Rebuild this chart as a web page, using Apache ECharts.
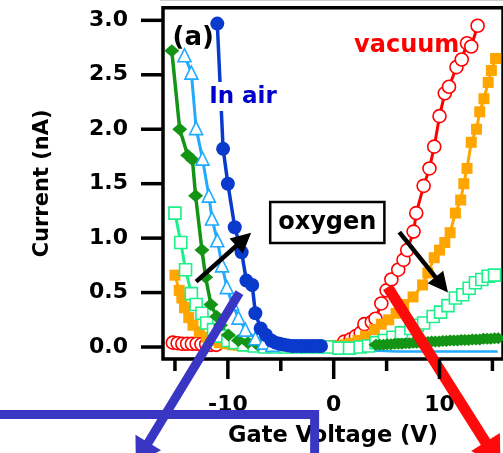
<!DOCTYPE html>
<html>
<head>
<meta charset="utf-8">
<script src="https://cdn.jsdelivr.net/npm/echarts@6/dist/echarts.min.js"></script>
<style>
  html, body { margin: 0; padding: 0; background: #fff; }
  #chart { width: 503px; height: 453px; }
</style>
</head>
<body>
<div id="chart"></div>
<script>
// Tick positions
const xTicksMajor = [-10, 0, 10];
const xTicksMinor = [-15, -5, 5, 15];
const yTicks = [0, 0.5, 1.0, 1.5, 2.0, 2.5, 3.0];

// Drain current (nA) versus gate voltage (V), [V, I] pairs
const vacuum = [
  [-15.2,0.04],[-14.75,0.035],[-14.3,0.03],[-13.85,0.03],[-13.4,0.03],[-12.95,0.03],[-12.5,0.025],
  [-12.05,0.025],[-11.6,0.02],[-11.1,0.02],[1.0,0.05],
  [1.6,0.07],[2.1,0.10],[2.55,0.13],[2.9,0.21],[3.6,0.23],[3.95,0.26],[4.5,0.40],[5.0,0.52],
  [5.45,0.62],[6.1,0.71],[6.6,0.80],[6.95,0.89],[7.55,1.06],[7.8,1.23],[8.5,1.48],[9.05,1.64],
  [9.5,1.84],[10.0,2.12],[10.5,2.33],[10.9,2.39],[11.6,2.57],[12.1,2.64],[12.6,2.79],[13.0,2.76],
  [13.6,2.95]
];
const oxygen1 = [
  [-15.0,0.66],[-14.6,0.52],[-14.35,0.45],[-14.1,0.36],[-13.7,0.27],[-13.3,0.20],[-12.7,0.14],
  [-12.0,0.09],[-11.4,0.06],[-10.8,0.04],[-10.2,0.03],[-9.6,0.02],[-9.0,0.015],[-8.4,0.01],
  [-7.8,0.01],[-7.2,0.01],[-6.6,0.01],[-6.0,0.01],[-5.4,0.01],[-4.8,0.01],[-4.2,0.01],[-3.6,0.01],
  [-3.0,0.01],[-2.4,0.01],[-1.8,0.01],[-1.2,0.01],[0.0,0.005],[0.5,0.01],[1.0,0.02],[1.6,0.035],
  [2.3,0.06],[3.0,0.10],[3.85,0.16],[4.5,0.21],[5.2,0.25],[5.9,0.31],[6.6,0.39],[7.5,0.46],
  [8.4,0.57],[8.9,0.68],[9.5,0.82],[10.0,0.89],[10.5,0.96],[11.0,1.05],[11.5,1.23],[12.0,1.35],
  [12.3,1.50],[12.6,1.64],[13.0,1.88],[13.5,2.0],[13.8,2.16],[14.2,2.28],[14.6,2.43],[14.9,2.54],
  [15.3,2.65]
];
const oxygen2 = [
  [-15.0,1.23],[-14.45,0.96],[-14.0,0.71],[-13.45,0.49],[-13.0,0.39],[-12.45,0.31],[-12.0,0.22],
  [-11.35,0.16],[-10.7,0.10],[-10.0,0.06],[-9.3,0.04],[-8.5,0.02],[-7.5,0.01],[-6.5,0.0],
  [-5.5,0.0],[-4.5,0.0],[-3.5,0.0],[-2.5,0.0],[-1.5,0.0],[-0.5,0.0],[0.5,-0.01],
  [1.5,-0.01],[2.5,0.0],[3.3,0.01],[4.0,0.04],[4.8,0.06],[5.6,0.09],[6.4,0.13],[7.3,0.17],
  [7.9,0.20],[8.5,0.22],[9.4,0.28],[10.1,0.32],[10.8,0.38],[11.5,0.45],[12.2,0.48],[12.8,0.54],
  [13.4,0.59],[14.0,0.62],[14.6,0.65],[15.2,0.66]
];
const oxygen3Left = [
  [-15.3,2.72],[-14.55,2.0],[-13.8,1.76],[-13.35,1.72],[-13.05,1.39],[-12.45,0.89],[-12.1,0.64],
  [-11.6,0.39],[-11.05,0.28],[-10.7,0.20],[-9.95,0.11],[-9.0,0.06],[-8.1,0.04],[-7.2,0.02],[-6.2,0.01]
];
const oxygen3Right = [
  [4.0,0.02],[4.35,0.02],[4.7,0.02],[5.05,0.025],[5.4,0.025],[5.75,0.03],[6.1,0.03],[6.45,0.03],
  [6.8,0.035],[7.15,0.035],[7.5,0.04],[7.85,0.04],[8.2,0.04],[8.55,0.045],[8.9,0.045],[9.25,0.05],
  [9.6,0.05],[9.95,0.05],[10.3,0.055],[10.65,0.055],[11.0,0.06],[11.35,0.06],[11.7,0.06],
  [12.05,0.065],[12.4,0.065],[12.75,0.065],[13.1,0.07],[13.45,0.07],[13.8,0.07],[14.15,0.075],
  [14.5,0.075],[14.85,0.075],[15.2,0.08],[15.55,0.08]
];
const oxygen4 = [
  [-14.1,2.68],[-13.45,2.52],[-13.0,2.01],[-12.4,1.73],[-11.8,1.39],[-11.5,1.18],[-11.0,0.98],
  [-10.55,0.75],[-10.1,0.55],[-9.6,0.40],[-9.0,0.27],[-8.35,0.16],[-7.4,0.08],[-6.6,0.04],[-5.8,0.02]
];
const oxygen4Tail = [
  [-5.8,0.02],[-3.0,0.0],[0.0,-0.02],[3.0,-0.03],[6.0,-0.04],[9.0,-0.04],[12.0,-0.04],[15.5,-0.04]
];
const inAir = [
  [-11.0,2.97],[-10.45,1.82],[-10.0,1.50],[-9.35,1.10],[-8.7,0.87],[-8.25,0.61],[-7.7,0.57],
  [-7.4,0.31],[-6.9,0.17],[-6.4,0.11],[-5.9,0.06],[-5.5,0.04],[-5.1,0.03],[-4.7,0.02],[-4.3,0.015],
  [-3.9,0.01],[-3.5,0.01],[-3.1,0.01],[-2.7,0.01],[-2.3,0.01],[-1.9,0.01],[-1.5,0.01],[-1.2,0.01]
];

const FONT = 'DejaVu Sans';
const C = {
  vacuum: '#ff0000', ox1: '#ffa500', ox2: '#1cf08a', ox3: '#149414', ox4: '#22aaff', air: '#0a3acc'
};
const X_MIN = -16.13, X_MAX = 16, Y_MIN = -0.11, Y_MAX = 3.116;

function curve(name, data, color, symbol, size, filled, width) {
  return {
    type: 'line', name, data,
    symbol, symbolSize: size, showSymbol: symbol !== 'none',
    lineStyle: { color, width },
    itemStyle: { color: filled ? color : '#fff', borderColor: color, borderWidth: filled ? 0 : 1.6 },
    emphasis: { disabled: true },
    animation: false
  };
}

const chart = echarts.init(document.getElementById('chart'));
const textStyle = { fontFamily: FONT, fontWeight: 'bold', color: '#000' };

chart.setOption({
  animation: false,
  grid: {
    left: 163, top: 7.7, right: -8.6, bottom: 94,
    show: true, borderColor: '#000', borderWidth: 3.5, backgroundColor: 'transparent'
  },
  xAxis: {
    type: 'value', position: 'bottom', min: X_MIN, max: X_MAX,
    axisLine: { show: false, onZero: false }, splitLine: { show: false }, axisTick: { show: false },
    axisLabel: Object.assign({ customValues: xTicksMajor, margin: 35, fontSize: 22 }, textStyle),
    name: 'Gate Voltage (V)', nameLocation: 'middle', nameGap: 66,
    nameTextStyle: Object.assign({ fontSize: 22.5 }, textStyle)
  },
  yAxis: {
    type: 'value', position: 'left', min: Y_MIN, max: Y_MAX,
    axisLine: { show: false, onZero: false }, splitLine: { show: false }, axisTick: { show: false },
    axisLabel: Object.assign({ customValues: yTicks, margin: 35, fontSize: 22,
      formatter: v => v.toFixed(1) }, textStyle),
    name: 'Current (nA)', nameLocation: 'middle', nameGap: 110,
    nameTextStyle: Object.assign({ fontSize: 21 }, textStyle)
  },
  series: [
    curve('vacuum', vacuum, C.vacuum, 'circle', 13, false, 3),
    curve('oxygen 1', oxygen1, C.ox1, 'rect', 11, true, 3),
    curve('oxygen 2', oxygen2, C.ox2, 'rect', 12, false, 3),
    curve('oxygen 3', oxygen3Left, C.ox3, 'diamond', [15, 13], true, 3.5),
    curve('oxygen 3', oxygen3Right, C.ox3, 'diamond', [15, 12], true, 3.5),
    curve('oxygen 4', oxygen4Tail, C.ox4, 'none', 0, false, 2.5),
    curve('oxygen 4', oxygen4, C.ox4, 'triangle', 13, false, 3),
    curve('in air', inAir, C.air, 'circle', 14, true, 3.5)
  ]
});

// Positions from the chart's own scales
const px = p => chart.convertToPixel({ xAxisIndex: 0, yAxisIndex: 0 }, p);

// Outward tick marks on the left and bottom frame edges, as filled bars
function tickMarks() {
  const out = [];
  const base = px([X_MIN, Y_MIN]);
  const bar = (x, y, width, height) => out.push({ type: 'rect', z: 120,
    shape: { x, y, width, height }, style: { fill: '#000' } });
  yTicks.forEach(v => { const p = px([X_MIN, v]); bar(base[0] - 22, p[1] - 1.75, 22, 3.5); });
  xTicksMajor.forEach(v => { const p = px([v, Y_MIN]); bar(p[0] - 1.75, base[1], 3.5, 20); });
  xTicksMinor.forEach(v => { const p = px([v, Y_MIN]); bar(p[0] - 1.75, base[1], 3.5, 12); });
  return out;
}

function arrow(fromD, toD, width, headLen, headHalf, color) {
  const a = px(fromD), b = px(toD);
  const dx = b[0] - a[0], dy = b[1] - a[1], L = Math.hypot(dx, dy);
  const ux = dx / L, uy = dy / L;
  const bx = b[0] - ux * headLen, by = b[1] - uy * headLen;
  return [
    { type: 'line', z: 100, shape: { x1: a[0], y1: a[1], x2: bx + ux * 3, y2: by + uy * 3 },
      style: { stroke: color, lineWidth: width } },
    { type: 'polygon', z: 100,
      shape: { points: [b, [bx - uy * headHalf, by + ux * headHalf], [bx + uy * headHalf, by - ux * headHalf]] },
      style: { fill: color } }
  ];
}

function label(text, atD, size, color, bg) {
  const p = px(atD);
  return { type: 'text', z: 90, x: p[0], y: p[1],
    style: { text, fontFamily: FONT, fontWeight: 'bold', fontSize: size, fill: color,
      align: 'center', verticalAlign: 'middle',
      backgroundColor: bg || 'transparent', padding: bg ? [3, 2] : 0 } };
}

const boxTL = px([-6.0, 1.332]), boxBR = px([4.79, 0.955]);
const bracket = [[-32.1, -0.62], [-1.8, -0.62], [-1.8, -1.08]].map(px);

chart.setOption({
  graphic: [
    { type: 'rect', z: 80, shape: { x: 160, y: 0, width: 343, height: 1 }, style: { fill: '#cfcfcf' } },
    ...tickMarks(),
    label('(a)', [-13.27, 2.84], 26, '#000'),
    label('In air', [-8.57, 2.30], 23, '#0000cc', '#fff'),
    label('vacuum', [6.9, 2.77], 24, '#ff0000'),
    { type: 'rect', z: 90,
      shape: { x: boxTL[0], y: boxTL[1], width: boxBR[0] - boxTL[0], height: boxBR[1] - boxTL[1] },
      style: { fill: '#fff', stroke: '#000', lineWidth: 2.5 } },
    label('oxygen', [-0.6, 1.14], 24, '#000'),
    ...arrow([-13.0, 0.60], [-7.8, 1.05], 4.5, 20, 10, '#000'),
    ...arrow([6.2, 1.055], [10.8, 0.50], 4.5, 20, 10, '#000'),
    { type: 'polyline', z: 110, shape: { points: bracket },
      style: { stroke: '#3a36c4', lineWidth: 9, fill: null, lineJoin: 'miter' } },
    ...arrow([-8.9, 0.50], [-18.7, -1.065], 9, 24, 15, '#3a36c4'),
    ...arrow([5.1, 0.55], [15.76, -1.09], 11, 28, 17, '#ff0a0a')
  ]
});
</script>
</body>
</html>
